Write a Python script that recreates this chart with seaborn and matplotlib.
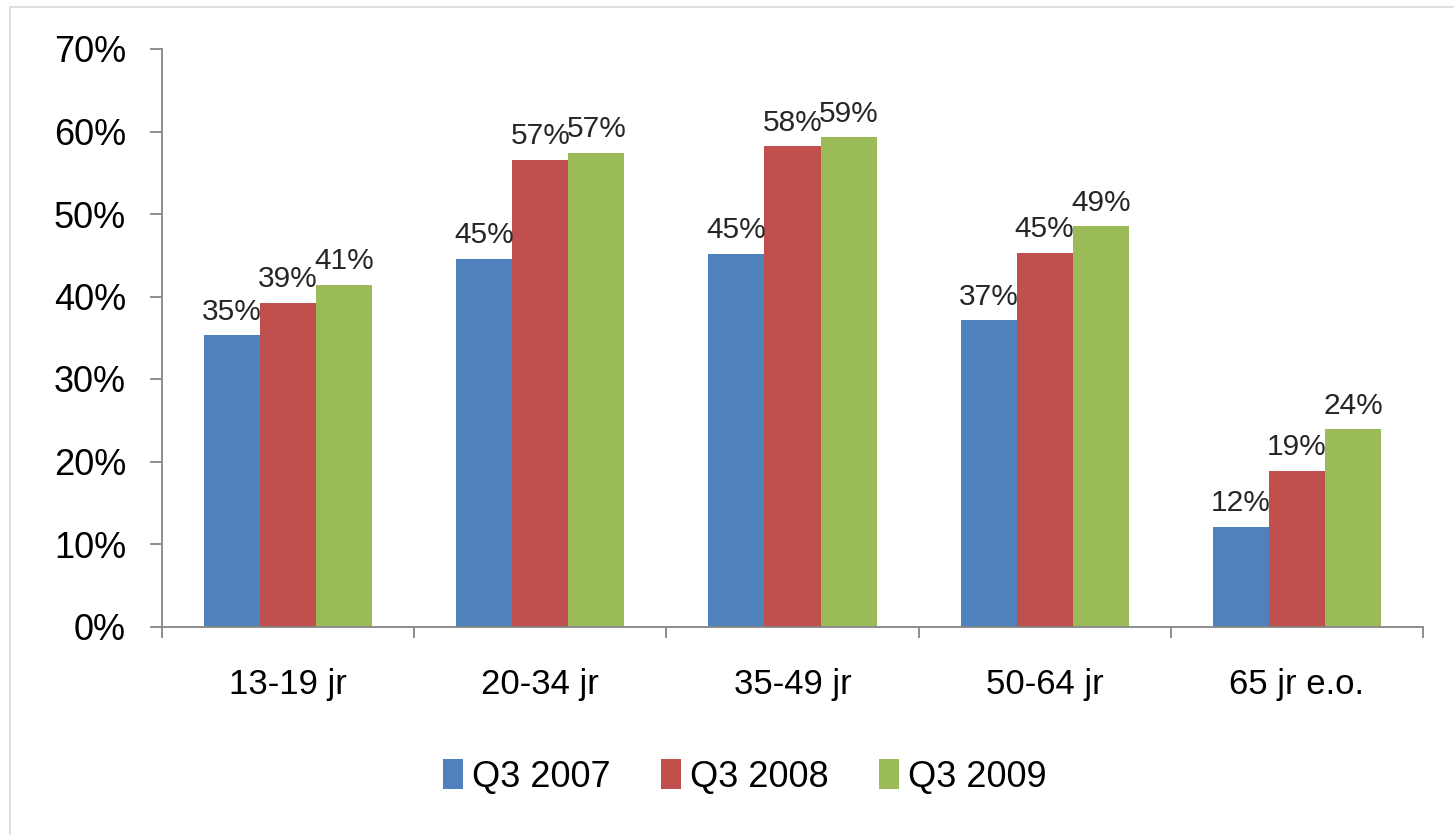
import matplotlib
matplotlib.use("Agg")
import matplotlib.pyplot as plt
import seaborn as sns
import pandas as pd
import numpy as np
from matplotlib.patches import Rectangle
from matplotlib.ticker import FixedLocator, FuncFormatter

categories = ["13-19 jr", "20-34 jr", "35-49 jr", "50-64 jr", "65 jr e.o."]
series = ["Q3 2007", "Q3 2008", "Q3 2009"]
q3_2007 = [35.3, 44.6, 45.2, 37.1, 12.1]
q3_2008 = [39.2, 56.6, 58.2, 45.3, 18.9]
q3_2009 = [41.4, 57.4, 59.3, 48.5, 23.9]
labels_2007 = ["35%", "45%", "45%", "37%", "12%"]
labels_2008 = ["39%", "57%", "58%", "45%", "19%"]
labels_2009 = ["41%", "57%", "59%", "49%", "24%"]
y_ticks = [0, 10, 20, 30, 40, 50, 60, 70]
colors = ["#4F81BD", "#C0504D", "#9BBB59"]

rows = []
for s, vals in zip(series, [q3_2007, q3_2008, q3_2009]):
    for c, v in zip(categories, vals):
        rows.append({"cat": c, "series": s, "val": v})
df = pd.DataFrame(rows)

sns.set_style("white")
plt.rcParams["font.family"] = ["Liberation Sans", "DejaVu Sans"]
plt.rcParams["xtick.bottom"] = True
plt.rcParams["ytick.left"] = True

fig = plt.figure(figsize=(14.54, 8.35), dpi=100)
W, H = 1454, 835
ax = fig.add_axes([162 / W, 1 - 626.5 / H, (1423 - 162) / W, (626.5 - 49) / H])

sns.barplot(data=df, x="cat", y="val", hue="series", order=categories,
            hue_order=series, palette=colors, width=0.667, gap=0,
            linewidth=0, saturation=1, ax=ax, legend=True)

ax.set_ylim(0, 70)
ax.set_xlim(-0.5, len(categories) - 0.5)
ax.set_yticks(y_ticks)
ax.yaxis.set_major_formatter(FuncFormatter(lambda v, p: f"{int(v)}%"))
ax.set_xlabel("")
ax.set_ylabel("")

spine_c = "#868686"
for side in ["top", "right"]:
    ax.spines[side].set_visible(False)
for side in ["left", "bottom"]:
    ax.spines[side].set_color(spine_c)
    ax.spines[side].set_linewidth(1.3)

ax.tick_params(axis="y", which="major", left=True, length=9, width=1.3,
               color=spine_c, direction="out", pad=17, labelsize=26,
               labelcolor="#000000")
ax.tick_params(axis="x", which="major", bottom=True, length=0, pad=30,
               labelsize=25, labelcolor="#000000")
ax.xaxis.set_minor_locator(FixedLocator(np.arange(-0.5, len(categories), 1.0)))
ax.tick_params(axis="x", which="minor", bottom=True, length=8, width=1.3,
               color=spine_c, direction="out")

for cont, labs in zip(ax.containers, [labels_2007, labels_2008, labels_2009]):
    ax.bar_label(cont, labels=labs, padding=7, fontsize=21.5, color="#262626")

handles, lbls = ax.get_legend_handles_labels()
ax.legend_.remove()
fig.legend(handles, lbls, loc="center", bbox_to_anchor=(745 / W, 1 - 777 / H),
           ncol=3, frameon=False, fontsize=26, handlelength=0.55,
           handleheight=0.9, handletextpad=0.25, columnspacing=1.4,
           labelcolor="#000000")

fig.patches.append(Rectangle((10 / W, -0.1), 1.2, 1 - 7 / H + 0.1,
                             transform=fig.transFigure, fill=False,
                             edgecolor="#d9d9d9", linewidth=1.2))

fig.savefig("out.png", dpi=100, facecolor="white")
